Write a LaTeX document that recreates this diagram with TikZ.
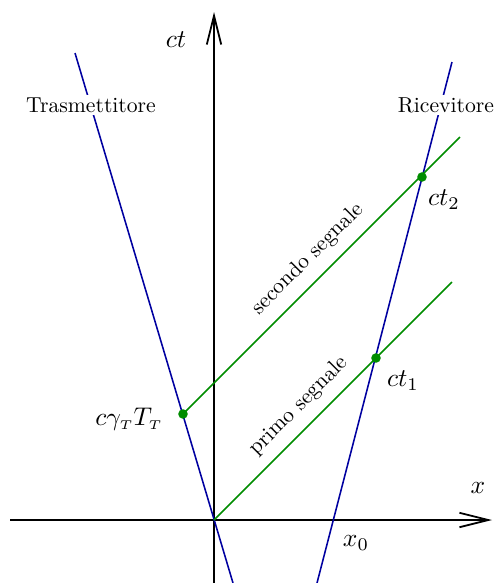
\documentclass[tikz,border=0pt]{standalone}
\usepackage{graphicx}
\usetikzlibrary{arrows.meta}
\definecolor{wline}{RGB}{0,0,160}
\definecolor{sig}{RGB}{0,140,0}
\newcommand{\mtxt}[1]{\scalebox{1.15}{$#1$}}
\newcommand{\ttxt}[1]{\scalebox{0.975}{#1}}
\begin{document}
\begin{tikzpicture}[x=0.45pt,y=-0.45pt,
  axis/.style={line width=0.8pt,-{Straight Barb[length=13pt,width=6.5pt,line width=0.8pt]}},
  wl/.style={wline,line width=0.7pt},
  sl/.style={sig,line width=0.7pt},
  ev/.style={circle,fill=sig,inner sep=0pt,minimum size=4.3pt},
  lab/.style={fill=white,inner sep=1pt},
  rlab/.style={rotate=45,inner sep=1pt}]
\useasboundingbox (0,0) rectangle (502,583);
% coordinates
\coordinate (O) at (214,520);
\coordinate (xs) at (10,520);
\coordinate (xe) at (492,520);
\coordinate (ys) at (214,583);
\coordinate (ye) at (214,12);
\coordinate (Ta) at (75,53);
\coordinate (Tb) at (233,583);
\coordinate (Ra) at (452,62);
\coordinate (Rb) at (317,583);
\coordinate (S1e) at (452,282);
\coordinate (S2e) at (460,137);
% axes
\draw[axis] (xs) -- (xe);
\draw[axis] (ys) -- (ye);
% worldlines
\draw[wl] (Ta) -- (Tb);
\draw[wl] (Ra) -- (Rb);
% signals
\coordinate (E0) at (183,414);
\coordinate (E1) at (376,358);
\coordinate (E2) at (422,177);
\draw[sl] (O) -- (S1e);
\draw[sl] (E0) -- (S2e);
\node[ev] (D0) at (E0) {};
\node[ev] (D1) at (E1) {};
\node[ev] (D2) at (E2) {};
% labels
\node[lab] (tr) at (91,105) {\ttxt{Trasmettitore}};
\node[lab] (rc) at (446,105) {\ttxt{Ricevitore}};
\node (lct) at (176,40) {\mtxt{ct}};
\node (lx) at (478,488) {\mtxt{x}};
\node (lx0) at (356,543) {\mtxt{x_0}};
\node (lct1) at (403,381) {\mtxt{ct_1}};
\node (lct2) at (444,200) {\mtxt{ct_2}};
\node (lT) at (129,419) {\mtxt{c\gamma_{\scriptscriptstyle T}T_{\scriptscriptstyle T}}};
\node[rlab] (l2) at (308,259) {\ttxt{secondo segnale}};
\node[rlab] (l1) at (299,406) {\ttxt{primo segnale}};
\end{tikzpicture}
\end{document}
